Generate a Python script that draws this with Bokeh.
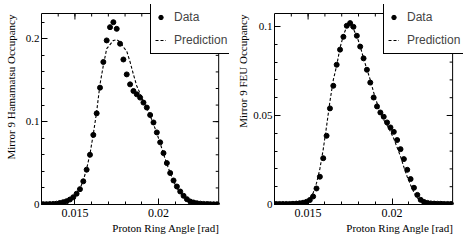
import numpy as np
from bokeh.plotting import figure
from bokeh.models import (LinearAxis, SingleIntervalTicker, CustomJSTickFormatter,
                          Legend, LegendItem, Title, Range1d, ColumnDataSource)
from bokeh.layouts import row
from bokeh.embed import file_html
from bokeh.resources import INLINE

# Bin centres of the proton ring angle [rad]
angle = [0.0131, 0.0133, 0.0135, 0.0137, 0.0139, 0.0141, 0.0143, 0.0145, 0.0147, 0.0149,
         0.0151, 0.0153, 0.0155, 0.0157, 0.0159, 0.0161, 0.0163, 0.0165, 0.0167, 0.0169,
         0.0171, 0.0173, 0.0175, 0.0177, 0.0179, 0.0181, 0.0183, 0.0185, 0.0187, 0.0189,
         0.0191, 0.0193, 0.0195, 0.0197, 0.0199, 0.0201, 0.0203, 0.0205, 0.0207, 0.0209,
         0.0211, 0.0213, 0.0215, 0.0217, 0.0219, 0.0221, 0.0223, 0.0225, 0.0227, 0.0229,
         0.0231, 0.0233, 0.0235]

# Mirror 9 Hamamatsu occupancy
hama_data = [0.0004, 0.0004, 0.0005, 0.0007, 0.001, 0.0018, 0.0028, 0.004, 0.006, 0.0088,
             0.013, 0.0185, 0.028, 0.042, 0.06, 0.084, 0.11, 0.141, 0.172, 0.198,
             0.214, 0.22, 0.212, 0.194, 0.175, 0.157, 0.145, 0.137, 0.133, 0.129,
             0.123, 0.117, 0.108, 0.099, 0.087, 0.075, 0.062, 0.05, 0.038, 0.029,
             0.0217, 0.0157, 0.0105, 0.0064, 0.0036, 0.0024, 0.0015, 0.001, 0.0007, 0.0005,
             0.0004, 0.0003, 0.0003]
hama_pred = [0.0003, 0.0004, 0.0005, 0.0007, 0.001, 0.0017, 0.0027, 0.004, 0.006, 0.009,
             0.013, 0.019, 0.029, 0.043, 0.061, 0.085, 0.112, 0.145, 0.168, 0.188,
             0.193, 0.198, 0.199, 0.196, 0.19, 0.185, 0.172, 0.157, 0.143, 0.134,
             0.124, 0.116, 0.107, 0.097, 0.086, 0.074, 0.061, 0.049, 0.038, 0.028,
             0.02, 0.0142, 0.0095, 0.006, 0.0035, 0.0022, 0.0014, 0.001, 0.0007, 0.0005,
             0.0004, 0.0003, 0.0003]

# Mirror 9 FEU occupancy
feu_data = [0.0003, 0.0003, 0.0003, 0.0003, 0.0003, 0.0004, 0.0005, 0.0007, 0.001, 0.0015,
            0.0025, 0.0045, 0.009, 0.0156, 0.026, 0.0386, 0.054, 0.0667, 0.0785, 0.087,
            0.0942, 0.1004, 0.1019, 0.0998, 0.0948, 0.0887, 0.0821, 0.0757, 0.0685, 0.0601,
            0.0551, 0.0517, 0.0493, 0.0461, 0.0433, 0.0408, 0.0362, 0.0311, 0.0255, 0.0195,
            0.0143, 0.0094, 0.0054, 0.0026, 0.0014, 0.0009, 0.0006, 0.0005, 0.0004, 0.0004,
            0.0003, 0.0003, 0.0003]
feu_pred = [0.0002, 0.0002, 0.0003, 0.0003, 0.0004, 0.0005, 0.0006, 0.0008, 0.0012, 0.002,
            0.0035, 0.0065, 0.012, 0.02, 0.031, 0.044, 0.058, 0.07, 0.078, 0.088,
            0.095, 0.1, 0.1, 0.0985, 0.0945, 0.089, 0.082, 0.076, 0.07, 0.063,
            0.057, 0.051, 0.0475, 0.0445, 0.041, 0.037, 0.032, 0.027, 0.021, 0.0155,
            0.011, 0.0068, 0.0038, 0.002, 0.0011, 0.0007, 0.0005, 0.0004, 0.0004, 0.0003,
            0.0003, 0.0003, 0.0003]

x_title = "Proton Ring Angle [rad]"
y_titles = ["Mirror 9 Hamamatsu Occupancy", "Mirror 9 FEU Occupancy"]
legend_labels = ["Data", "Prediction"]
x_min, x_max = 0.013, 0.0236
y_max_values = [0.2305, 0.1073]
y_major_steps = [0.1, 0.05]

SERIF = "Liberation Serif"
SANS = "Liberation Sans"

# Layout (pixels)
ROOT_W, ROOT_H = 180, 191   # drawn histogram frame
EXT_R, EXT_T = 11, 9        # extra plot area that holds the overlapping legend
TOP, BOTTOM = 4, 32
MAJ, MIN = 6, 3             # tick lengths


def make_axis(ticker, bounds, font_size, standoff):
    fmt = CustomJSTickFormatter(code="return String(parseFloat(tick.toFixed(4)));")
    return LinearAxis(ticker=ticker, formatter=fmt, bounds=bounds,
                      major_tick_in=MAJ, major_tick_out=0,
                      minor_tick_in=MIN, minor_tick_out=0,
                      axis_line_color="black", major_tick_line_color="black",
                      minor_tick_line_color="black",
                      major_label_text_font=SERIF, major_label_text_font_size=font_size,
                      major_label_text_color="black", major_label_standoff=standoff)


def make_panel(ytitle, data, pred, ymax, ymajor, left_border, width, ytitle_standoff):
    x_end = x_max + (x_max - x_min) * EXT_R / ROOT_W
    y_end = ymax * (ROOT_H + EXT_T) / ROOT_H
    p = figure(width=width, height=TOP + ROOT_H + EXT_T + BOTTOM, output_backend="svg",
               toolbar_location=None,
               x_range=Range1d(x_min, x_end), y_range=Range1d(0, y_end),
               min_border_left=left_border,
               min_border_right=width - left_border - ROOT_W - EXT_R,
               min_border_top=TOP, min_border_bottom=BOTTOM,
               x_axis_location=None, y_axis_location=None)
    p.xgrid.visible = False
    p.ygrid.visible = False
    p.background_fill_color = "white"
    p.border_fill_color = "white"
    p.outline_line_color = None

    xt = SingleIntervalTicker(interval=0.005, num_minor_ticks=5)
    yt = SingleIntervalTicker(interval=ymajor, num_minor_ticks=5)
    p.add_layout(make_axis(xt, (x_min, x_max), "12px", 4), "below")
    p.add_layout(make_axis(yt, (0, ymax), "11px", 2), "left")

    p.add_layout(Title(text=x_title, align="right", text_font=SERIF, text_font_size="11px",
                       text_font_style="normal", text_color="black",
                       standoff=0, offset=EXT_R - 1), "below")
    p.add_layout(Title(text=ytitle, align="right", vertical_align="top",
                       text_font=SERIF, text_font_size="11px",
                       text_font_style="normal", text_color="black",
                       standoff=ytitle_standoff, offset=EXT_T + 1), "left")

    # histogram frame (top and right edges with inward ticks, as drawn by ROOT)
    p.quad(left=x_min, right=x_max, bottom=0, top=ymax, fill_color=None,
           line_color="black", line_width=1)
    dx = (x_max - x_min) / ROOT_W   # one pixel in x
    dy = ymax / ROOT_H              # one pixel in y
    x_minor = np.arange(0.014, x_max, 0.001)
    x_major = np.arange(0.015, x_max, 0.005)
    y_minor = np.arange(ymajor / 5, ymax, ymajor / 5)
    y_major = np.arange(ymajor, ymax, ymajor)
    p.segment(x0=x_minor, y0=ymax, x1=x_minor, y1=ymax - MIN * dy, line_color="black")
    p.segment(x0=x_major, y0=ymax, x1=x_major, y1=ymax - MAJ * dy, line_color="black")
    p.segment(x0=x_max, y0=y_minor, x1=x_max - MIN * dx, y1=y_minor, line_color="black")
    p.segment(x0=x_max, y0=y_major, x1=x_max - MAJ * dx, y1=y_major, line_color="black")

    src = ColumnDataSource(dict(x=angle, d=data, pr=pred))
    r_line = p.line("x", "pr", source=src, line_color="black", line_width=1.1,
                    line_dash="3 2")
    r_pts = p.scatter("x", "d", source=src, size=5, color="black")

    legend = Legend(items=[LegendItem(label=legend_labels[0], renderers=[r_pts]),
                           LegendItem(label=legend_labels[1], renderers=[r_line])],
                    location=(109, 150), padding=4, spacing=5, margin=0,
                    glyph_width=11, glyph_height=18, label_height=18, label_width=55,
                    label_standoff=8,
                    label_text_font=SANS, label_text_font_size="12px",
                    border_line_color="black", border_line_width=1, border_line_alpha=1,
                    background_fill_color="white", background_fill_alpha=1)
    p.add_layout(legend)
    return p


p1 = make_panel(y_titles[0], hama_data, hama_pred, y_max_values[0], y_major_steps[0],
                38, 236, 8)
p2 = make_panel(y_titles[1], feu_data, feu_pred, y_max_values[1], y_major_steps[1],
                36, 227, 0)

layout = row(p1, p2)
open("out.html", "w").write(file_html(layout, INLINE))
